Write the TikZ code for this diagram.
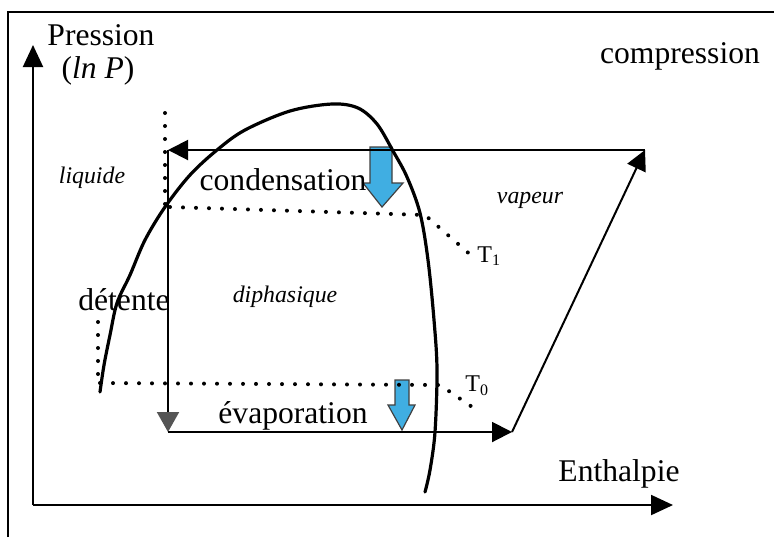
\documentclass[tikz,border=0pt]{standalone}
\usepackage{fontspec}
\setmainfont{Liberation Serif}
\usetikzlibrary{arrows.meta}

\definecolor{fluxblue}{RGB}{64,174,226}
\definecolor{tipgray}{RGB}{85,85,85}

\begin{document}
\begin{tikzpicture}[
    x=0.5pt, y=-0.5pt,
    >={Triangle[length=10pt,width=10pt]}, % Filled tips
    axis/.style={->, line width=1pt, >={Triangle[length=11pt,width=10pt]}}, % Axes
    cycle/.style={line width=1pt}, % Refrigeration cycle
    dome/.style={line width=1.6pt, line cap=round}, % Saturation curve
    isodot/.style={line width=2pt, line cap=round, dash pattern=on 0pt off 6.5pt}, % Dotted lines
    biglabel/.style={font=\fontsize{15.8}{18}\selectfont, anchor=base, inner sep=0pt},
    zonelabel/.style={font=\fontsize{11.9}{14}\selectfont\itshape, anchor=base, inner sep=0pt},
    templabel/.style={font=\fontsize{12}{14}\selectfont, anchor=west, inner sep=0pt},
    flux/.style={fill=fluxblue, draw=black!75, line width=0.6pt, line join=miter}
]
    \useasboundingbox (0,0) rectangle (774,537);

    % Frame (top and left edges)
    \draw[line width=0.8pt] (8,537) -- (8,12) -- (774,12);

    % Axes
    \coordinate (O) at (33,505);
    \coordinate (ytip) at (33,45);
    \coordinate (xtip) at (673,505);
    \draw[axis] (O) -- (ytip);
    \draw[axis] (O) -- (xtip);
    \node[biglabel] (pression) at (101,45) {Pression};
    \node[biglabel] (lnp) at (98,78) {(\textit{ln P})};
    \node[biglabel] (enthalpie) at (619,481) {Enthalpie};

    % Cycle corners
    \coordinate (A) at (168,150); % end of condensation
    \coordinate (B) at (645,150); % end of compression
    \coordinate (C) at (168,432); % end of expansion
    \coordinate (D) at (512,432); % end of evaporation

    % Blue heat flux arrows (under the curve)
    \draw[flux] (370,147) -- (392,147) -- (392,183) -- (403,183) -- (382,207)
        -- (363,183) -- (370,183) -- cycle;
    \draw[flux] (395,380) -- (409,380) -- (409,405) -- (415,405) -- (402,430)
        -- (388,405) -- (395,405) -- cycle;

    % Cycle
    \draw[cycle, ->] (B) -- (A);
    \draw[cycle, ->, >={Triangle[length=10pt,width=11pt,color=tipgray]}] (A) -- (C);
    \draw[cycle, ->] (C) -- (D);
    \draw[cycle, ->] (D) -- (B);

    % Isotherms and dotted guides
    \coordinate (t1a) at (170,207);
    \coordinate (t1b) at (425,215);
    \coordinate (t1c) at (473,257);
    \node[templabel] (T1) at (477,256) {T\textsubscript{1}};
    \draw[isodot] (t1a) -- (t1b) -- (t1c);

    \coordinate (t0a) at (100,383);
    \coordinate (t0b) at (440,385);
    \coordinate (t0c) at (481,413);
    \node[templabel] (T0) at (465,386) {T\textsubscript{0}};
    \draw[isodot] (t0a) -- (t0b) -- (t0c);

    \draw[isodot] (165,113) -- (165,207);
    \draw[isodot] (98,322) -- (98,383);

    % Saturation curve
    \draw[dome] plot[smooth, tension=0.55] coordinates {
        (100,392) (104,365) (110,335) (117,303) (130,275) (145,240)
        (165,207) (190,175) (217,150) (245,130) (290,111) (332,104)
        (358,108) (377,124) (393,151) (407,177) (420,213)
        (428,260) (434,320) (437,370) (435,432) (430,470) (425,492)};

    % Labels
    \node[biglabel] (compression) at (680,63) {compression};
    \node[biglabel] (condensation) at (283,190) {condensation};
    \node[biglabel] (detente) at (124,310) {détente};
    \node[biglabel] (evaporation) at (293,423) {évaporation};
    \node[zonelabel] (liquide) at (92,183) {liquide};
    \node[zonelabel] (vapeur) at (530,203) {vapeur};
    \node[zonelabel] (diphasique) at (285,302) {diphasique};

\end{tikzpicture}
\end{document}
